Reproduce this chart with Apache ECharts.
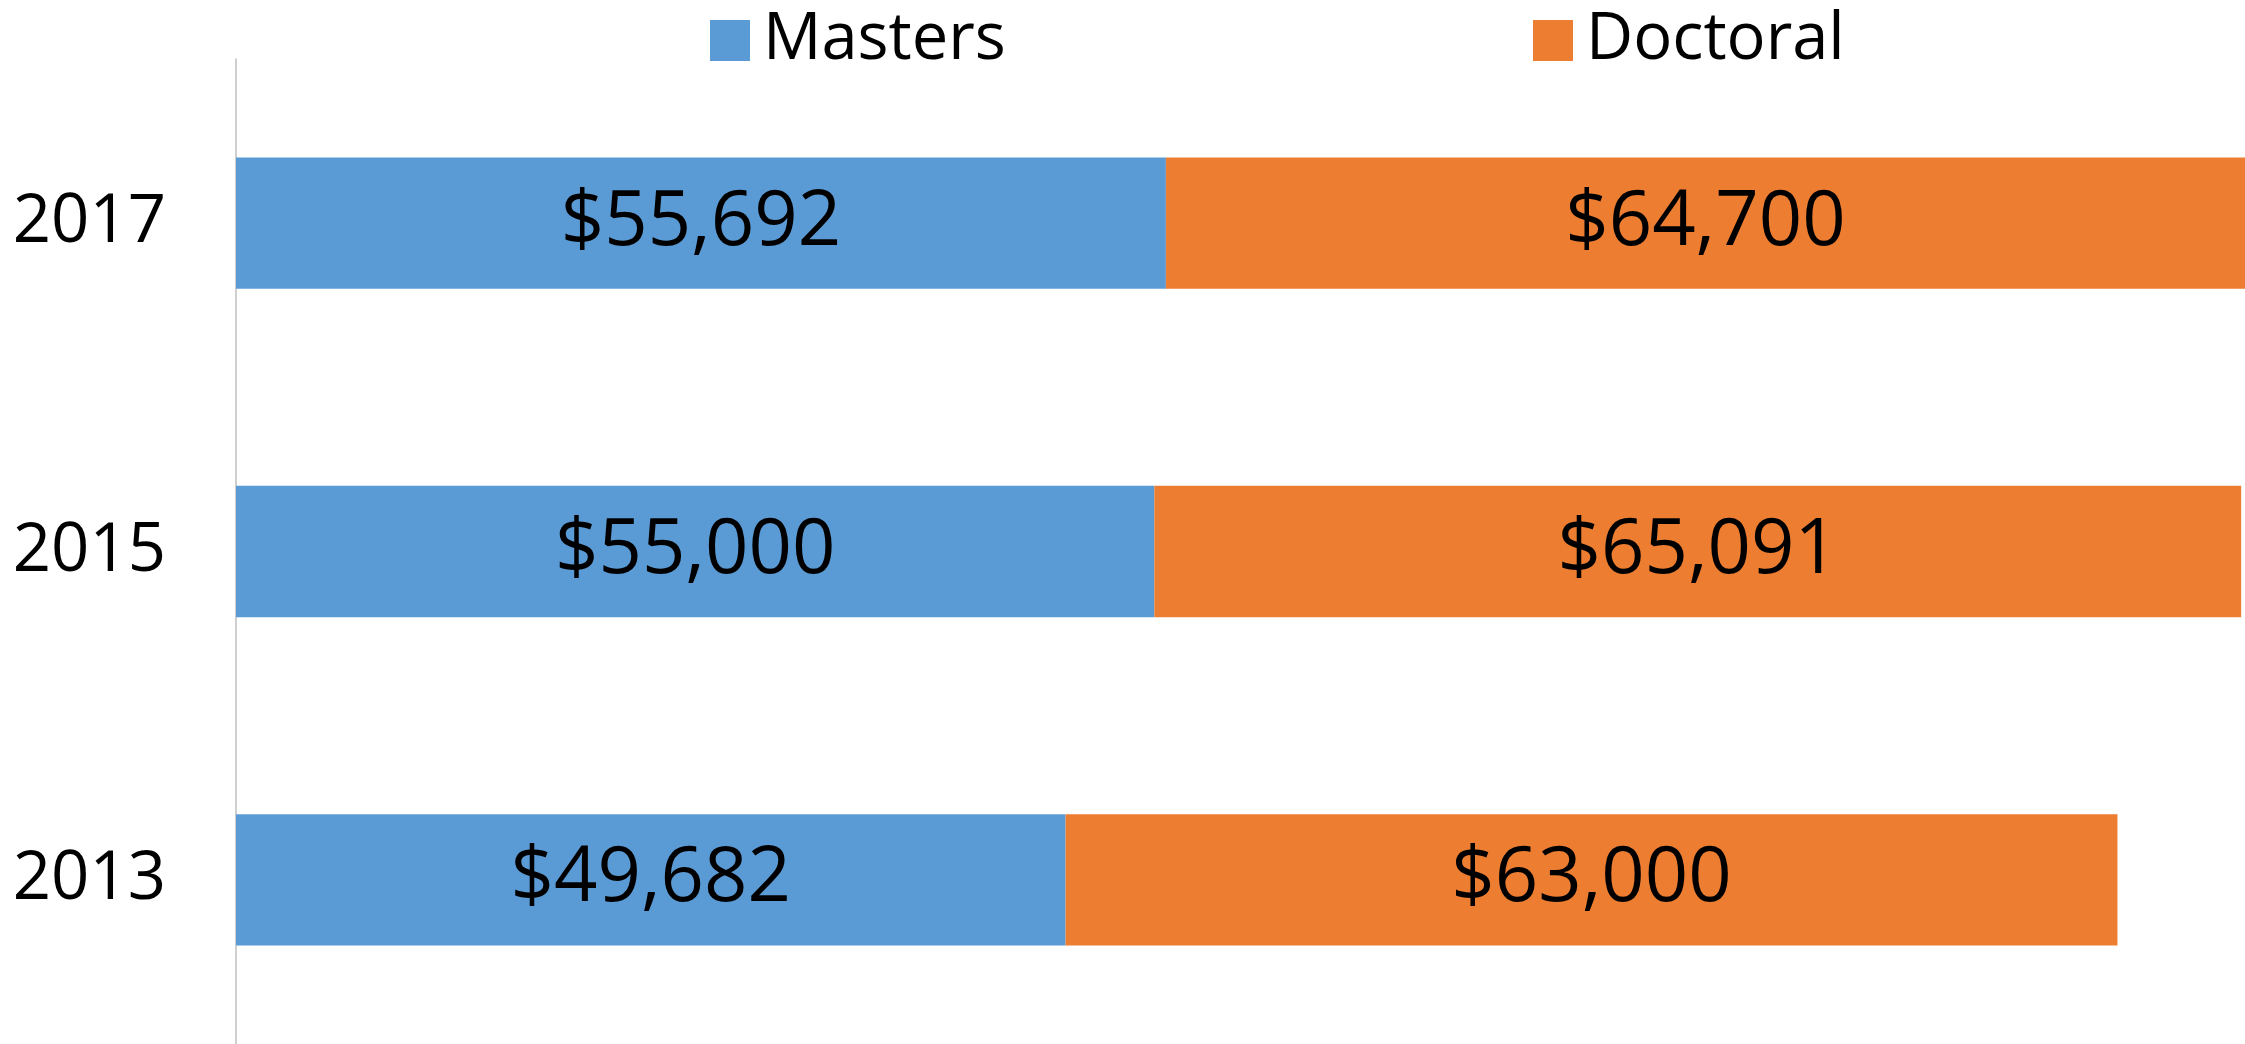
<!DOCTYPE html>
<html>
<head>
<meta charset="utf-8">
<style>
html,body{margin:0;padding:0;background:#fff;}
#chart{width:2245px;height:1044px;}
</style>
<script src="https://cdn.jsdelivr.net/npm/echarts@6/dist/echarts.min.js"></script>
</head>
<body>
<div id="chart"></div>
<script>
const categories = ['2013', '2015', '2017'];
const masters = [49682, 55000, 55692];
const doctoral = [63000, 65091, 64700];
const seriesNames = ['Masters', 'Doctoral'];

const FONT = 'Open Sans';
const fmt = v => '$' + v.toLocaleString('en-US');

const chart = echarts.init(document.getElementById('chart'), null, {renderer: 'canvas'});
chart.setOption({
  animation: false,
  backgroundColor: '#ffffff',
  color: ['#5B9BD5', '#ED7D31'],
  legend: [
    {
      data: [seriesNames[0]], left: 705, top: 3, itemWidth: 40, itemHeight: 41, itemGap: 0,
      icon: 'rect', selectedMode: false,
      textStyle: {fontFamily: FONT, fontSize: 65, color: '#000', lineHeight: 41, padding: [0, 0, 0, 8]}
    },
    {
      data: [seriesNames[1]], left: 1528, top: 3, itemWidth: 40, itemHeight: 41, itemGap: 0,
      icon: 'rect', selectedMode: false,
      textStyle: {fontFamily: FONT, fontSize: 65, color: '#000', lineHeight: 41, padding: [0, 0, 0, 8]}
    }
  ],
  grid: {left: 236, right: 0, top: 59, bottom: -3, containLabel: false},
  xAxis: {
    type: 'value', min: 0, max: 120320, show: false,
    splitLine: {show: false}
  },
  yAxis: {
    type: 'category', data: categories,
    axisLine: {show: true, lineStyle: {color: '#BFBFBF', width: 1.5}},
    axisTick: {show: false},
    axisLabel: {fontFamily: FONT, fontSize: 67, color: '#000', margin: 70}
  },
  series: [
    {
      name: seriesNames[0], type: 'bar', stack: 'total', data: masters, barWidth: '40%',
      itemStyle: {color: '#5B9BD5'},
      label: {show: true, position: 'inside', fontFamily: FONT, fontSize: 76, color: '#000',
        formatter: p => fmt(p.value)}
    },
    {
      name: seriesNames[1], type: 'bar', stack: 'total', data: doctoral, barWidth: '40%',
      itemStyle: {color: '#ED7D31'},
      label: {show: true, position: 'inside', fontFamily: FONT, fontSize: 76, color: '#000',
        formatter: p => fmt(p.value)}
    }
  ]
});
</script>
</body>
</html>
